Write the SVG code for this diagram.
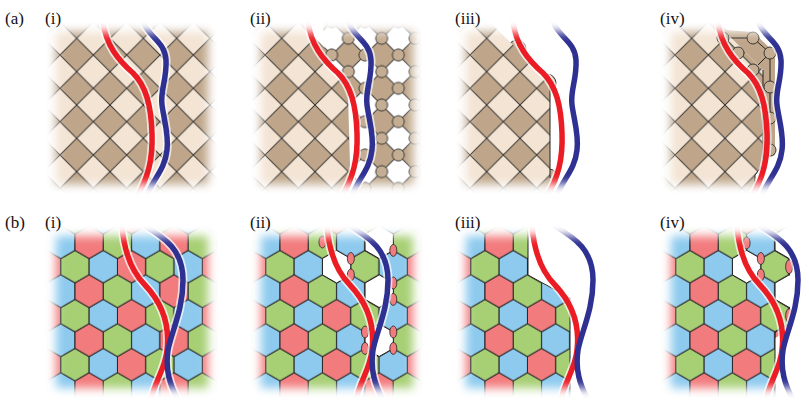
<svg xmlns="http://www.w3.org/2000/svg" width="809" height="400" viewBox="0 0 809 400">
<style>
.lbl{font-family:'Liberation Serif','DejaVu Serif',serif;font-size:17px;fill:#111}
.halo{fill:none;stroke:#fff;stroke-width:9;stroke-opacity:0.7;stroke-linecap:round}
.red{fill:none;stroke:#ec1c24;stroke-width:5.5;stroke-linecap:round}
.blue{fill:none;stroke:#2e3192;stroke-width:5.5;stroke-linecap:round}
.g{fill:#a7cf74}.b{fill:#8dcaee}.r{fill:#f27b7d}
.hx{stroke:#222;stroke-width:1}
.wh{fill:#fff;stroke:#222;stroke-width:1}
.lens{fill:#f27b7d;stroke:#222;stroke-width:0.8}
.bc{fill:#c4ad92;stroke:#2a2a2a;stroke-width:0.9}
.edge{fill:none;stroke:#222;stroke-width:1}
</style>
<defs>
<filter id="bl" x="-20%" y="-20%" width="140%" height="140%"><feGaussianBlur stdDeviation="5"/></filter>
<mask id="fadeA" maskUnits="userSpaceOnUse" x="0" y="0" width="809" height="400"><rect x="56" y="32" width="152" height="152" fill="#fff" filter="url(#bl)"/></mask>
<mask id="fadeB" maskUnits="userSpaceOnUse" x="0" y="0" width="809" height="400"><rect x="56" y="236" width="152" height="152" fill="#fff" filter="url(#bl)"/></mask>
<pattern id="sq" patternUnits="userSpaceOnUse" x="60" y="38.33" width="33.333" height="33.333">
<rect width="33.333" height="33.333" fill="#f3e4d4"/>
<polygon points="16.667,0 33.333,16.667 16.667,33.333 0,16.667" fill="#bfa68a" stroke="#2a2a2a" stroke-width="1"/>
</pattern>
<pattern id="oct" patternUnits="userSpaceOnUse" x="60" y="38.33" width="33.333" height="33.333">
<rect width="33.333" height="33.333" fill="#fff"/>
<polygon points="16.667,0 33.333,16.667 16.667,33.333 0,16.667" fill="#bfa68a" stroke="#2a2a2a" stroke-width="1"/>
<circle cx="16.667" cy="0" r="6" class="bc"/><circle cx="33.333" cy="16.667" r="6" class="bc"/>
<circle cx="16.667" cy="33.333" r="6" class="bc"/><circle cx="0" cy="16.667" r="6" class="bc"/>
</pattern>
<polygon id="h" points="0,-16.33 14.15,-8.17 14.15,8.17 0,16.33 -14.15,8.17 -14.15,-8.17"/>
<pattern id="hex" patternUnits="userSpaceOnUse" x="75" y="266.7" width="84.87" height="49">
<g class="hx">
<use href="#h" x="0" y="0" class="g"/><use href="#h" x="28.29" y="0" class="b"/><use href="#h" x="56.58" y="0" class="r"/><use href="#h" x="84.87" y="0" class="g"/>
<use href="#h" x="0" y="49" class="g"/><use href="#h" x="28.29" y="49" class="b"/><use href="#h" x="56.58" y="49" class="r"/><use href="#h" x="84.87" y="49" class="g"/>
<use href="#h" x="-14.15" y="24.5" class="b"/><use href="#h" x="14.15" y="24.5" class="r"/><use href="#h" x="42.43" y="24.5" class="g"/><use href="#h" x="70.72" y="24.5" class="b"/><use href="#h" x="99" y="24.5" class="r"/>
<use href="#h" x="-14.15" y="-24.5" class="b"/><use href="#h" x="14.15" y="-24.5" class="r"/><use href="#h" x="42.43" y="-24.5" class="g"/><use href="#h" x="70.72" y="-24.5" class="b"/><use href="#h" x="99" y="-24.5" class="r"/>
</g>
</pattern>
<path id="ra" d="M103,22 C106,45 118,60 133,73 C146,86 151,105 152,133 C153,160 148,178 136,198"/>
<path id="ba" d="M143,22 C150,38 165,42 166,60 C167,80 160,90 162,105 C164,120 169,135 167,150 C165,170 152,180 146,198"/>
<path id="rb" d="M122,226 C124,250 130,270 145,285 C162,303 170,325 167,350 C165,370 155,380 151,400"/>
<path id="bb" d="M145,226 C165,238 183,250 183,280 C183,310 172,330 168,350 C165,370 170,385 178,400"/>
<g id="curvesA"><use href="#ra" class="halo"/><use href="#ba" class="halo"/><use href="#ra" class="red"/><use href="#ba" class="blue"/></g>
<g id="curvesB"><use href="#rb" class="halo"/><use href="#bb" class="halo"/><use href="#rb" class="red"/><use href="#bb" class="blue"/></g>
</defs>

<g id="labels" font-family="Liberation Serif, DejaVu Serif, serif">
<text class="lbl" x="5" y="24">(a)</text>
<text class="lbl" x="5" y="228">(b)</text>
<text class="lbl" x="45" y="24">(i)</text><text class="lbl" x="250" y="24">(ii)</text><text class="lbl" x="455" y="24">(iii)</text><text class="lbl" x="660" y="24">(iv)</text>
<text class="lbl" x="45" y="228">(i)</text><text class="lbl" x="250" y="228">(ii)</text><text class="lbl" x="455" y="228">(iii)</text><text class="lbl" x="660" y="228">(iv)</text>
</g>

<g id="panel-a-i"><g mask="url(#fadeA)">
<rect x="40" y="20" width="180" height="180" fill="url(#sq)"/>
<use href="#curvesA"/>
</g></g>

<g id="panel-a-ii" transform="translate(205,0)"><g mask="url(#fadeA)">
<polygon points="40,20 100,20 110,38 126.7,55 143.3,71.7 143.3,105 146,200 40,200" fill="url(#sq)"/>
<polygon points="118,20 230,20 230,200 150,200 150,100 135,75 120,55" fill="url(#oct)"/>
<use href="#curvesA"/>
</g></g>

<g id="panel-a-iii" transform="translate(410,0)"><g mask="url(#fadeA)">
<circle cx="107" cy="49" r="9" class="bc"/><circle cx="137" cy="83" r="9" class="bc"/><circle cx="139" cy="178" r="9" class="bc"/>
<polygon points="40,20 78,20 140,82 140,200 40,200" fill="url(#sq)"/>
<path class="edge" d="M140,82 V178"/>
<use href="#curvesA"/>
</g></g>

<g id="panel-a-iv" transform="translate(615,0)"><g mask="url(#fadeA)">
<polygon points="98,20 112,30 138,32 160,53 160,155 148,160 148,70" fill="#bfa68a"/>
<path class="edge" d="M108,38 H138 L155,53 L138,70 L123,53 Z M155,53 V150"/>
<polygon points="40,20 98,20 148,70 148,165 140,175 140,200 40,200" fill="url(#sq)"/>
<path class="edge" d="M148,70 V165 L140,175 V190"/>
<circle cx="108" cy="38" r="6" class="bc"/><circle cx="123" cy="53" r="6" class="bc"/><circle cx="138" cy="38" r="6" class="bc"/><circle cx="155" cy="53" r="6" class="bc"/>
<circle cx="138" cy="70" r="6" class="bc"/><circle cx="155" cy="87" r="6" class="bc"/><circle cx="155" cy="118" r="6" class="bc"/><circle cx="155" cy="150" r="6" class="bc"/>
<use href="#curvesA"/>
</g></g>

<g id="panel-b-i"><g mask="url(#fadeB)">
<rect x="40" y="225" width="180" height="180" fill="url(#hex)"/>
<use href="#curvesB"/>
</g></g>

<g id="panel-b-ii" transform="translate(205,0)"><g mask="url(#fadeB)">
<rect x="40" y="225" width="180" height="180" fill="url(#hex)"/>
<use href="#h" x="131.6" y="266.7" class="wh"/>
<use href="#h" x="174.2" y="242.2" class="wh"/>
<use href="#h" x="174.2" y="291.2" class="wh"/>
<use href="#h" x="174.2" y="340.2" class="wh"/>
<g class="lens">
<ellipse cx="145.85" cy="258.5" rx="3.5" ry="6"/><ellipse cx="145.85" cy="274.9" rx="3.5" ry="6"/>
<ellipse cx="188.3" cy="250.4" rx="3.5" ry="6"/><ellipse cx="188.3" cy="283" rx="3.5" ry="6"/><ellipse cx="188.3" cy="299.4" rx="3.5" ry="6"/>
<ellipse cx="188.3" cy="332" rx="3.5" ry="6"/><ellipse cx="188.3" cy="348.4" rx="3.5" ry="6"/>
<ellipse cx="160" cy="332" rx="3.5" ry="6"/><ellipse cx="160" cy="348.4" rx="3.5" ry="6"/>
<ellipse cx="117.45" cy="242" rx="3.5" ry="6"/>
</g>
<use href="#curvesB"/>
</g></g>

<g id="panel-b-iii" transform="translate(410,0)"><g mask="url(#fadeB)">
<polygon points="40,225 118,225 118,275 132,283 146,291 160,298 160,398 40,398" fill="url(#hex)"/>
<path class="edge" d="M118,225 V275 L160,298 V398"/>
<use href="#curvesB"/>
</g></g>

<g id="panel-b-iv" transform="translate(615,0)"><g mask="url(#fadeB)">
<polygon points="40,225 175,225 175,330 160,338 160,398 40,398" fill="url(#hex)"/>
<use href="#h" x="131.6" y="266.7" class="wh"/>
<use href="#h" x="174.2" y="242.2" class="wh"/>
<use href="#h" x="174.2" y="291.2" class="wh"/>
<rect x="175" y="225" width="40" height="175" fill="#fff"/>
<path class="edge" d="M174.15,258.5 V274.9 M174.15,307.5 V324 L160,332 V398"/>
<g class="lens">
<ellipse cx="145.85" cy="258.5" rx="3.5" ry="6"/><ellipse cx="145.85" cy="274.9" rx="3.5" ry="6"/>
<ellipse cx="174.15" cy="266.7" rx="3.5" ry="7"/><ellipse cx="174.15" cy="315.7" rx="3.5" ry="7"/>
<ellipse cx="131.6" cy="243" rx="3.5" ry="6"/>
</g>
<use href="#curvesB"/>
</g></g>
</svg>
